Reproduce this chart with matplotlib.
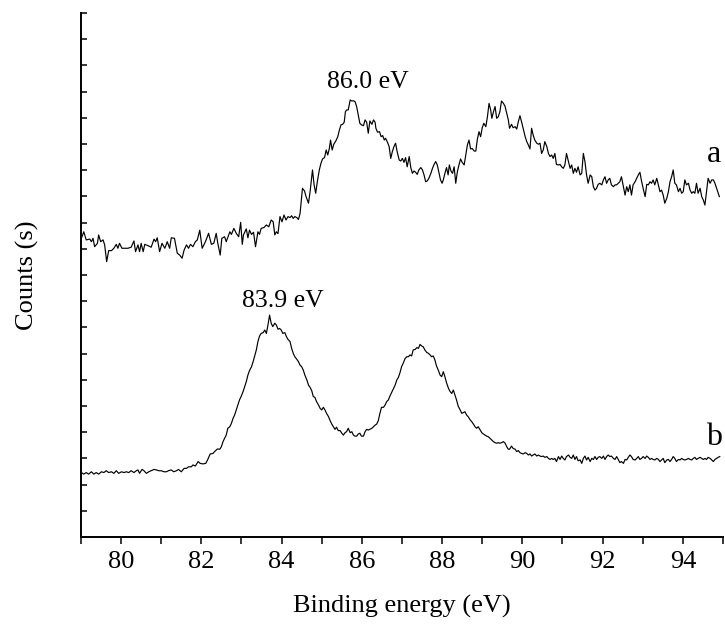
import matplotlib
matplotlib.use('Agg')
import matplotlib.pyplot as plt
from matplotlib.ticker import MultipleLocator, NullFormatter

# Spectre a (haut) : énergie de liaison (eV) et intensité (u.a.)
energie_a = [
    79.01, 79.07, 79.13, 79.22, 79.26, 79.30, 79.34, 79.41, 79.44, 79.49,
    79.55, 79.59, 79.64, 79.69, 79.76, 79.82, 79.88, 79.92, 79.96, 80.02,
    80.09, 80.17, 80.25, 80.32, 80.36, 80.42, 80.46, 80.50, 80.55, 80.59,
    80.67, 80.75, 80.82, 80.86, 80.90, 80.96, 81.02, 81.09, 81.15, 81.21,
    81.25, 81.33, 81.40, 81.46, 81.52, 81.57, 81.63, 81.68, 81.73, 81.79,
    81.85, 81.90, 81.96, 82.02, 82.07, 82.12, 82.18, 82.25, 82.31, 82.37,
    82.41, 82.47, 82.51, 82.58, 82.62, 82.71, 82.75, 82.81, 82.87, 82.93,
    82.98, 83.02, 83.05, 83.12, 83.16, 83.20, 83.25, 83.30, 83.35, 83.41,
    83.45, 83.49, 83.56, 83.62, 83.68, 83.74, 83.79, 83.83, 83.87, 83.91,
    83.96, 84.01, 84.06, 84.11, 84.16,
    84.21, 84.25, 84.29, 84.33, 84.38, 84.42, 84.46, 84.52, 84.57, 84.61,
    84.67, 84.71, 84.77, 84.81, 84.85, 84.89, 84.94, 84.98, 85.02, 85.07,
    85.11, 85.15, 85.19, 85.22, 85.26, 85.30, 85.35, 85.40, 85.44, 85.48,
    85.52, 85.56, 85.59, 85.62, 85.66, 85.71, 85.75, 85.79, 85.83, 85.87,
    85.91, 85.95, 85.99, 86.04, 86.08, 86.12, 86.16, 86.20, 86.25, 86.29,
    86.33, 86.35, 86.39, 86.44, 86.48, 86.52, 86.56, 86.59, 86.64, 86.68,
    86.72, 86.76, 86.80, 86.84, 86.88, 86.93, 86.97, 87.01, 87.05, 87.09,
    87.13, 87.18, 87.22, 87.26, 87.30, 87.34, 87.38, 87.42, 87.47, 87.51,
    87.55, 87.59, 87.63, 87.67, 87.72, 87.76, 87.80, 87.84, 87.88, 87.92,
    87.96, 88.00, 88.03, 88.07, 88.11, 88.15, 88.18, 88.22, 88.26, 88.30,
    88.34, 88.38, 88.42, 88.46, 88.50, 88.55, 88.59, 88.63, 88.67, 88.71,
    88.75, 88.80, 88.84, 88.88, 88.92, 88.96, 89.00, 89.04, 89.09, 89.13,
    89.17, 89.21, 89.24, 89.28, 89.32, 89.36, 89.40, 89.44, 89.48, 89.53,
    89.57, 89.61, 89.65, 89.68,
    89.73, 89.77, 89.82, 89.86, 89.90, 89.94, 89.98, 90.02, 90.07, 90.11,
    90.15, 90.19, 90.23, 90.27, 90.31, 90.36, 90.40, 90.44, 90.48, 90.52,
    90.56, 90.61, 90.65, 90.69, 90.73, 90.77, 90.81, 90.85, 90.90, 90.94,
    90.98, 91.02, 91.06, 91.10, 91.15, 91.19, 91.23, 91.27, 91.31, 91.35,
    91.39, 91.44, 91.48, 91.52, 91.56, 91.60, 91.64, 91.69, 91.73, 91.77,
    91.81, 91.85, 91.89, 91.93, 91.98, 92.02, 92.06, 92.10, 92.14, 92.18,
    92.22, 92.27, 92.31, 92.35, 92.39, 92.43, 92.47, 92.52, 92.56, 92.60,
    92.64, 92.68, 92.72, 92.76, 92.81, 92.85, 92.89, 92.93, 92.97, 93.01,
    93.06, 93.10, 93.14, 93.18, 93.22, 93.26, 93.30, 93.35, 93.39, 93.43,
    93.47, 93.51, 93.55, 93.60, 93.64, 93.68, 93.72, 93.76, 93.80, 93.84,
    93.89, 93.93, 93.97, 94.01, 94.05, 94.09, 94.14, 94.18, 94.22, 94.26,
    94.30, 94.34, 94.38, 94.43, 94.47, 94.51, 94.55, 94.59, 94.63, 94.68,
    94.72, 94.76, 94.80, 94.84, 94.88, 94.91,
]
coups_a = [
    11.40, 11.65, 11.34, 11.37, 11.27, 11.40, 11.08, 11.21, 11.53, 11.27,
    11.34, 11.15, 10.51, 10.93, 10.93, 11.02, 11.17, 11.02, 11.21, 11.02,
    11.02, 11.02, 11.06, 11.30, 10.89, 11.15, 10.89, 11.21, 10.89, 11.17,
    11.12, 11.06, 11.37, 11.27, 11.42, 10.89, 11.21, 11.02, 11.27, 11.02,
    11.42, 11.40, 10.83, 10.76, 10.64, 10.95, 11.15, 11.02, 11.17, 11.08,
    11.27, 11.34, 11.71, 11.02, 11.17, 11.34, 11.59, 11.17, 11.21, 11.59,
    11.21, 10.76, 11.40, 11.46, 11.27, 11.65, 11.55, 11.78, 11.59, 11.46,
    12.01, 11.17, 11.53, 11.76, 11.42, 11.71, 11.55, 11.63, 11.08, 11.65,
    11.55, 11.78, 11.81, 11.91, 11.84, 12.10, 12.03, 11.53, 11.65, 11.58,
    12.23, 12.03, 12.29, 12.10, 12.23,
    12.19, 12.26, 12.16, 12.23, 12.19, 12.12, 12.35, 13.31, 13.21, 12.99,
    12.74, 13.18, 14.01, 13.44, 13.12, 13.56, 14.01, 14.26, 14.43, 14.48,
    14.77, 14.58, 14.83, 15.15, 14.77, 14.99, 15.11, 15.28, 15.53, 15.73,
    15.75, 15.83, 16.23, 16.30, 16.30, 16.68, 16.64, 16.65, 16.62, 16.43,
    16.11, 15.79, 15.73, 15.70, 15.92, 15.83, 15.41, 15.88, 15.75, 15.92,
    15.83, 15.60, 15.45, 15.47, 15.28, 15.32, 15.15, 15.22, 15.06, 14.90,
    14.45, 14.71, 14.90, 15.03, 14.71, 14.39, 14.35, 14.45, 14.30, 14.48,
    14.13, 14.52, 14.10, 13.88, 13.97, 13.92, 13.84, 14.01, 14.10, 14.01,
    13.82, 13.56, 13.59, 13.69, 13.88, 14.07, 14.22, 14.33, 14.20, 13.92,
    13.63, 13.50, 13.63, 13.88, 14.10, 13.82, 14.20, 13.97, 13.88, 14.13,
    13.50, 13.94, 14.20, 14.43, 14.30, 14.20, 14.58, 14.96, 15.15, 14.81,
    14.83, 14.73, 14.73, 15.19, 15.47, 15.28, 15.62, 15.79, 15.66, 16.04,
    16.55, 16.30, 15.98, 16.23, 16.43, 15.98, 16.04, 16.23, 16.64, 16.55,
    16.43, 16.17, 15.92, 15.60,
    15.75, 15.62, 15.66, 15.57, 15.85, 16.08, 15.85, 15.60, 15.28, 15.09,
    14.96, 14.81, 15.60, 15.34, 15.15, 15.03, 14.99, 15.03, 14.64, 14.77,
    15.09, 14.90, 14.64, 14.52, 14.58, 14.45, 14.64, 14.22, 14.20, 14.22,
    14.13, 14.07, 14.20, 14.64, 14.33, 14.07, 14.20, 13.88, 14.07, 13.92,
    14.13, 13.82, 13.88, 14.64, 14.33, 13.82, 13.50, 13.82, 13.75, 13.37,
    13.24, 13.31, 13.46, 13.50, 13.44, 13.63, 13.75, 13.50, 13.63, 13.69,
    13.44, 13.37, 13.44, 13.44, 13.50, 13.56, 13.75, 13.37, 13.05, 13.37,
    13.18, 13.44, 13.05, 13.44, 13.56, 13.69, 13.82, 13.92, 13.59, 13.31,
    12.99, 13.46, 13.44, 13.56, 13.50, 13.63, 13.44, 13.69, 13.44, 13.18,
    13.24, 13.05, 12.74, 12.93, 13.18, 13.56, 13.75, 14.01, 13.50, 13.44,
    13.18, 13.31, 13.12, 13.18, 13.63, 13.44, 13.50, 13.24, 13.12, 13.18,
    13.12, 13.50, 13.12, 13.31, 12.99, 12.86, 12.67, 13.18, 13.69, 13.50,
    13.63, 13.63, 13.50, 13.31, 13.12, 12.99,
]

# Spectre b (bas)
energie_b = [
    79.01, 79.07, 79.13, 79.19, 79.26, 79.32, 79.38, 79.44, 79.51, 79.57,
    79.63, 79.69, 79.76, 79.82, 79.88, 79.94, 80.01, 80.07, 80.13, 80.19,
    80.25, 80.32, 80.38, 80.42, 80.46, 80.52, 80.57, 80.63, 80.69, 80.75,
    80.82, 80.88, 80.94, 81.00, 81.07, 81.13, 81.18, 81.25, 81.31, 81.38,
    81.43, 81.50, 81.57, 81.63, 81.68, 81.75, 81.79, 81.85, 81.92, 81.97,
    82.04, 82.11, 82.16, 82.22, 82.29, 82.33, 82.40, 82.46, 82.50, 82.54,
    82.58, 82.62, 82.66, 82.71, 82.75, 82.79, 82.83, 82.87, 82.91, 82.95,
    82.99, 83.04, 83.08, 83.12, 83.16, 83.20, 83.25, 83.29, 83.33, 83.37,
    83.41, 83.45, 83.49, 83.54, 83.58, 83.62, 83.66, 83.70, 83.74, 83.78,
    83.83, 83.87, 83.91, 83.95, 83.99, 84.03, 84.08, 84.12, 84.16,
    84.21, 84.25, 84.29, 84.33, 84.38, 84.42, 84.46, 84.50, 84.54, 84.58,
    84.63, 84.67, 84.71, 84.75, 84.79, 84.83, 84.87, 84.92, 84.96, 85.00,
    85.04, 85.08, 85.12, 85.17, 85.21, 85.25, 85.29, 85.33, 85.37, 85.41,
    85.46, 85.50, 85.54, 85.58, 85.62, 85.66, 85.71, 85.75, 85.79, 85.83,
    85.87, 85.91, 85.95, 85.99, 86.04, 86.08, 86.12, 86.16, 86.20, 86.25,
    86.29, 86.33, 86.37, 86.41, 86.45, 86.49, 86.54, 86.58, 86.62, 86.66,
    86.70, 86.74, 86.79, 86.83, 86.87, 86.91, 86.95, 86.99, 87.03, 87.08,
    87.12, 87.16, 87.20, 87.24, 87.28, 87.33, 87.37, 87.41, 87.45, 87.49,
    87.53, 87.57, 87.62, 87.66, 87.70, 87.74, 87.78, 87.82, 87.86, 87.91,
    87.95, 87.99, 88.03, 88.07, 88.11, 88.16, 88.20, 88.24, 88.28, 88.32,
    88.36, 88.40, 88.45, 88.49, 88.53, 88.57, 88.61, 88.65, 88.70, 88.74,
    88.78, 88.82, 88.86, 88.90, 88.94, 88.99, 89.03, 89.07, 89.11, 89.15,
    89.19, 89.24, 89.28, 89.32, 89.36, 89.40, 89.44, 89.48, 89.53, 89.57,
    89.61, 89.65, 89.68,
    89.73, 89.77, 89.82, 89.86, 89.90, 89.94, 89.98, 90.02, 90.07, 90.11,
    90.15, 90.19, 90.23, 90.27, 90.31, 90.36, 90.40, 90.44, 90.48, 90.52,
    90.56, 90.61, 90.65, 90.69, 90.73, 90.77, 90.81, 90.85, 90.90, 90.94,
    90.98, 91.02, 91.06, 91.10, 91.15, 91.19, 91.23, 91.27, 91.31, 91.35,
    91.39, 91.44, 91.48, 91.52, 91.56, 91.60, 91.64, 91.69, 91.73, 91.77,
    91.81, 91.85, 91.89, 91.93, 91.98, 92.02, 92.06, 92.10, 92.14, 92.18,
    92.22, 92.27, 92.31, 92.35, 92.39, 92.43, 92.47, 92.52, 92.56, 92.60,
    92.64, 92.68, 92.72, 92.76, 92.81, 92.85, 92.89, 92.93, 92.97, 93.01,
    93.06, 93.10, 93.14, 93.18, 93.22, 93.26, 93.30, 93.35, 93.39, 93.43,
    93.47, 93.51, 93.55, 93.60, 93.64, 93.68, 93.72, 93.76, 93.80, 93.84,
    93.89, 93.93, 93.97, 94.01, 94.05, 94.09, 94.14, 94.18, 94.22, 94.26,
    94.30, 94.34, 94.38, 94.43, 94.47, 94.51, 94.55, 94.59, 94.63, 94.68,
    94.72, 94.76, 94.80, 94.84, 94.88, 94.92,
]
coups_b = [
    2.46, 2.40, 2.46, 2.40, 2.49, 2.40, 2.46, 2.40, 2.49, 2.46,
    2.53, 2.46, 2.49, 2.43, 2.53, 2.43, 2.49, 2.46, 2.49, 2.46,
    2.53, 2.46, 2.53, 2.56, 2.43, 2.58, 2.53, 2.43, 2.49, 2.53,
    2.58, 2.56, 2.53, 2.53, 2.49, 2.49, 2.53, 2.56, 2.49, 2.53,
    2.58, 2.49, 2.62, 2.62, 2.68, 2.68, 2.75, 2.71, 2.88, 2.81,
    2.79, 2.81, 2.96, 3.17, 3.19, 3.26, 3.36, 3.35, 3.45, 3.64,
    3.77, 3.89, 4.15, 4.21, 4.34, 4.53, 4.66, 4.85, 5.04, 5.23,
    5.36, 5.55, 5.74, 5.93, 6.18, 6.35, 6.50, 6.69, 6.91, 7.14,
    7.46, 7.67, 7.77, 7.80, 7.90, 7.77, 8.09, 8.47, 8.16, 8.03,
    8.16, 8.09, 7.93, 7.96, 7.90, 7.77, 7.80, 7.65, 7.54,
    7.46, 7.20, 7.01, 6.88, 6.78, 6.69, 6.56, 6.50, 6.37, 6.18,
    5.99, 5.80, 5.71, 5.59, 5.36, 5.33, 5.17, 5.04, 4.91, 4.85,
    4.95, 4.85, 4.72, 4.59, 4.44, 4.31, 4.21, 4.11, 4.19, 4.06,
    4.06, 3.96, 3.89, 3.98, 4.02, 4.15, 3.98, 4.02, 3.89, 3.85,
    3.85, 3.93, 3.96, 3.85, 3.85, 4.02, 4.11, 4.08, 4.11, 4.15,
    4.21, 4.27, 4.31, 4.44, 4.72, 4.95, 4.95, 5.04, 5.17, 5.23,
    5.38, 5.51, 5.67, 5.80, 5.99, 6.09, 6.27, 6.50, 6.63, 6.82,
    6.88, 6.88, 6.95, 6.91, 7.14, 7.16, 7.23, 7.20, 7.35, 7.29,
    7.26, 7.14, 7.04, 7.01, 6.95, 6.88, 6.91, 6.76, 6.53, 6.35,
    6.18, 6.12, 6.31, 6.12, 5.89, 5.67, 5.55, 5.48, 5.61, 5.42,
    5.23, 5.00, 4.85, 4.72, 4.75, 4.78, 4.66, 4.59, 4.47, 4.40,
    4.31, 4.21, 4.15, 4.21, 4.11, 3.98, 3.93, 3.89, 3.85, 3.83,
    3.77, 3.70, 3.64, 3.60, 3.58, 3.60, 3.58, 3.60, 3.64, 3.58,
    3.45, 3.35, 3.35,
    3.47, 3.38, 3.35, 3.26, 3.30, 3.22, 3.19, 3.17, 3.22, 3.19,
    3.13, 3.17, 3.09, 3.13, 3.17, 3.09, 3.13, 3.09, 3.07, 3.09,
    3.04, 3.07, 3.00, 2.96, 3.00, 2.96, 3.00, 2.88, 3.07, 2.96,
    3.09, 3.00, 2.94, 3.07, 3.13, 3.04, 3.00, 3.13, 2.96, 3.07,
    2.91, 2.94, 2.81, 3.00, 3.09, 2.94, 3.04, 2.88, 3.00, 2.96,
    3.07, 2.96, 3.04, 3.07, 3.00, 3.09, 2.96, 3.07, 3.13, 3.07,
    3.09, 3.00, 2.96, 3.07, 2.96, 2.84, 2.88, 2.81, 2.96, 2.94,
    3.04, 3.13, 3.07, 2.96, 2.94, 3.00, 3.07, 2.96, 3.00, 3.07,
    3.00, 3.09, 3.04, 2.96, 3.00, 2.96, 2.94, 3.00, 2.96, 2.88,
    2.94, 3.00, 2.84, 2.94, 2.96, 2.88, 2.96, 3.07, 3.00, 2.88,
    2.96, 2.94, 3.00, 2.96, 2.94, 2.96, 3.00, 2.96, 2.94, 3.00,
    3.04, 2.96, 3.00, 3.04, 3.00, 2.96, 3.00, 2.96, 3.04, 3.00,
    2.94, 2.88, 2.96, 3.00, 3.04, 3.07,
]

# Annotations des pics
pics = [(86.15, 17.15, '86.0 eV'), (84.03, 8.78, '83.9 eV')]
etiquettes = [(94.78, 14.31, 'a'), (94.78, 3.51, 'b')]

plt.rcParams['font.family'] = ['Liberation Serif', 'DejaVu Serif']

fig = plt.figure(figsize=(7.25, 6.3), dpi=100)
ax = fig.add_axes([0.1117, 0.1476, 0.8855, 0.8318])

ax.plot(energie_a, coups_a, color='black', lw=0.85)
ax.plot(energie_b, coups_b, color='black', lw=0.85)

for x, y, txt in pics:
    ax.text(x, y, txt, ha='center', va='baseline', fontsize=18.5)
for x, y, txt in etiquettes:
    ax.text(x, y, txt, ha='center', va='baseline', fontsize=23)

ax.set_xlim(79, 95)
ax.set_ylim(0, 20)
ax.xaxis.set_major_locator(MultipleLocator(2))
ax.xaxis.set_minor_locator(MultipleLocator(1))
ax.yaxis.set_major_locator(MultipleLocator(1))
ax.yaxis.set_major_formatter(NullFormatter())

ax.spines['top'].set_visible(False)
ax.spines['right'].set_visible(False)
ax.spines['left'].set_linewidth(1.4)
ax.spines['bottom'].set_linewidth(1.4)

ax.tick_params(axis='x', which='both', direction='out', length=5, width=1.1, labelsize=19, pad=5)
ax.tick_params(axis='y', which='both', direction='in', length=4, width=1.1)

ax.set_xlabel('Binding energy (eV)', fontsize=19, labelpad=16)
ax.set_ylabel('Counts (s)', fontsize=19, labelpad=27)

fig.savefig('out.png', dpi=100)
